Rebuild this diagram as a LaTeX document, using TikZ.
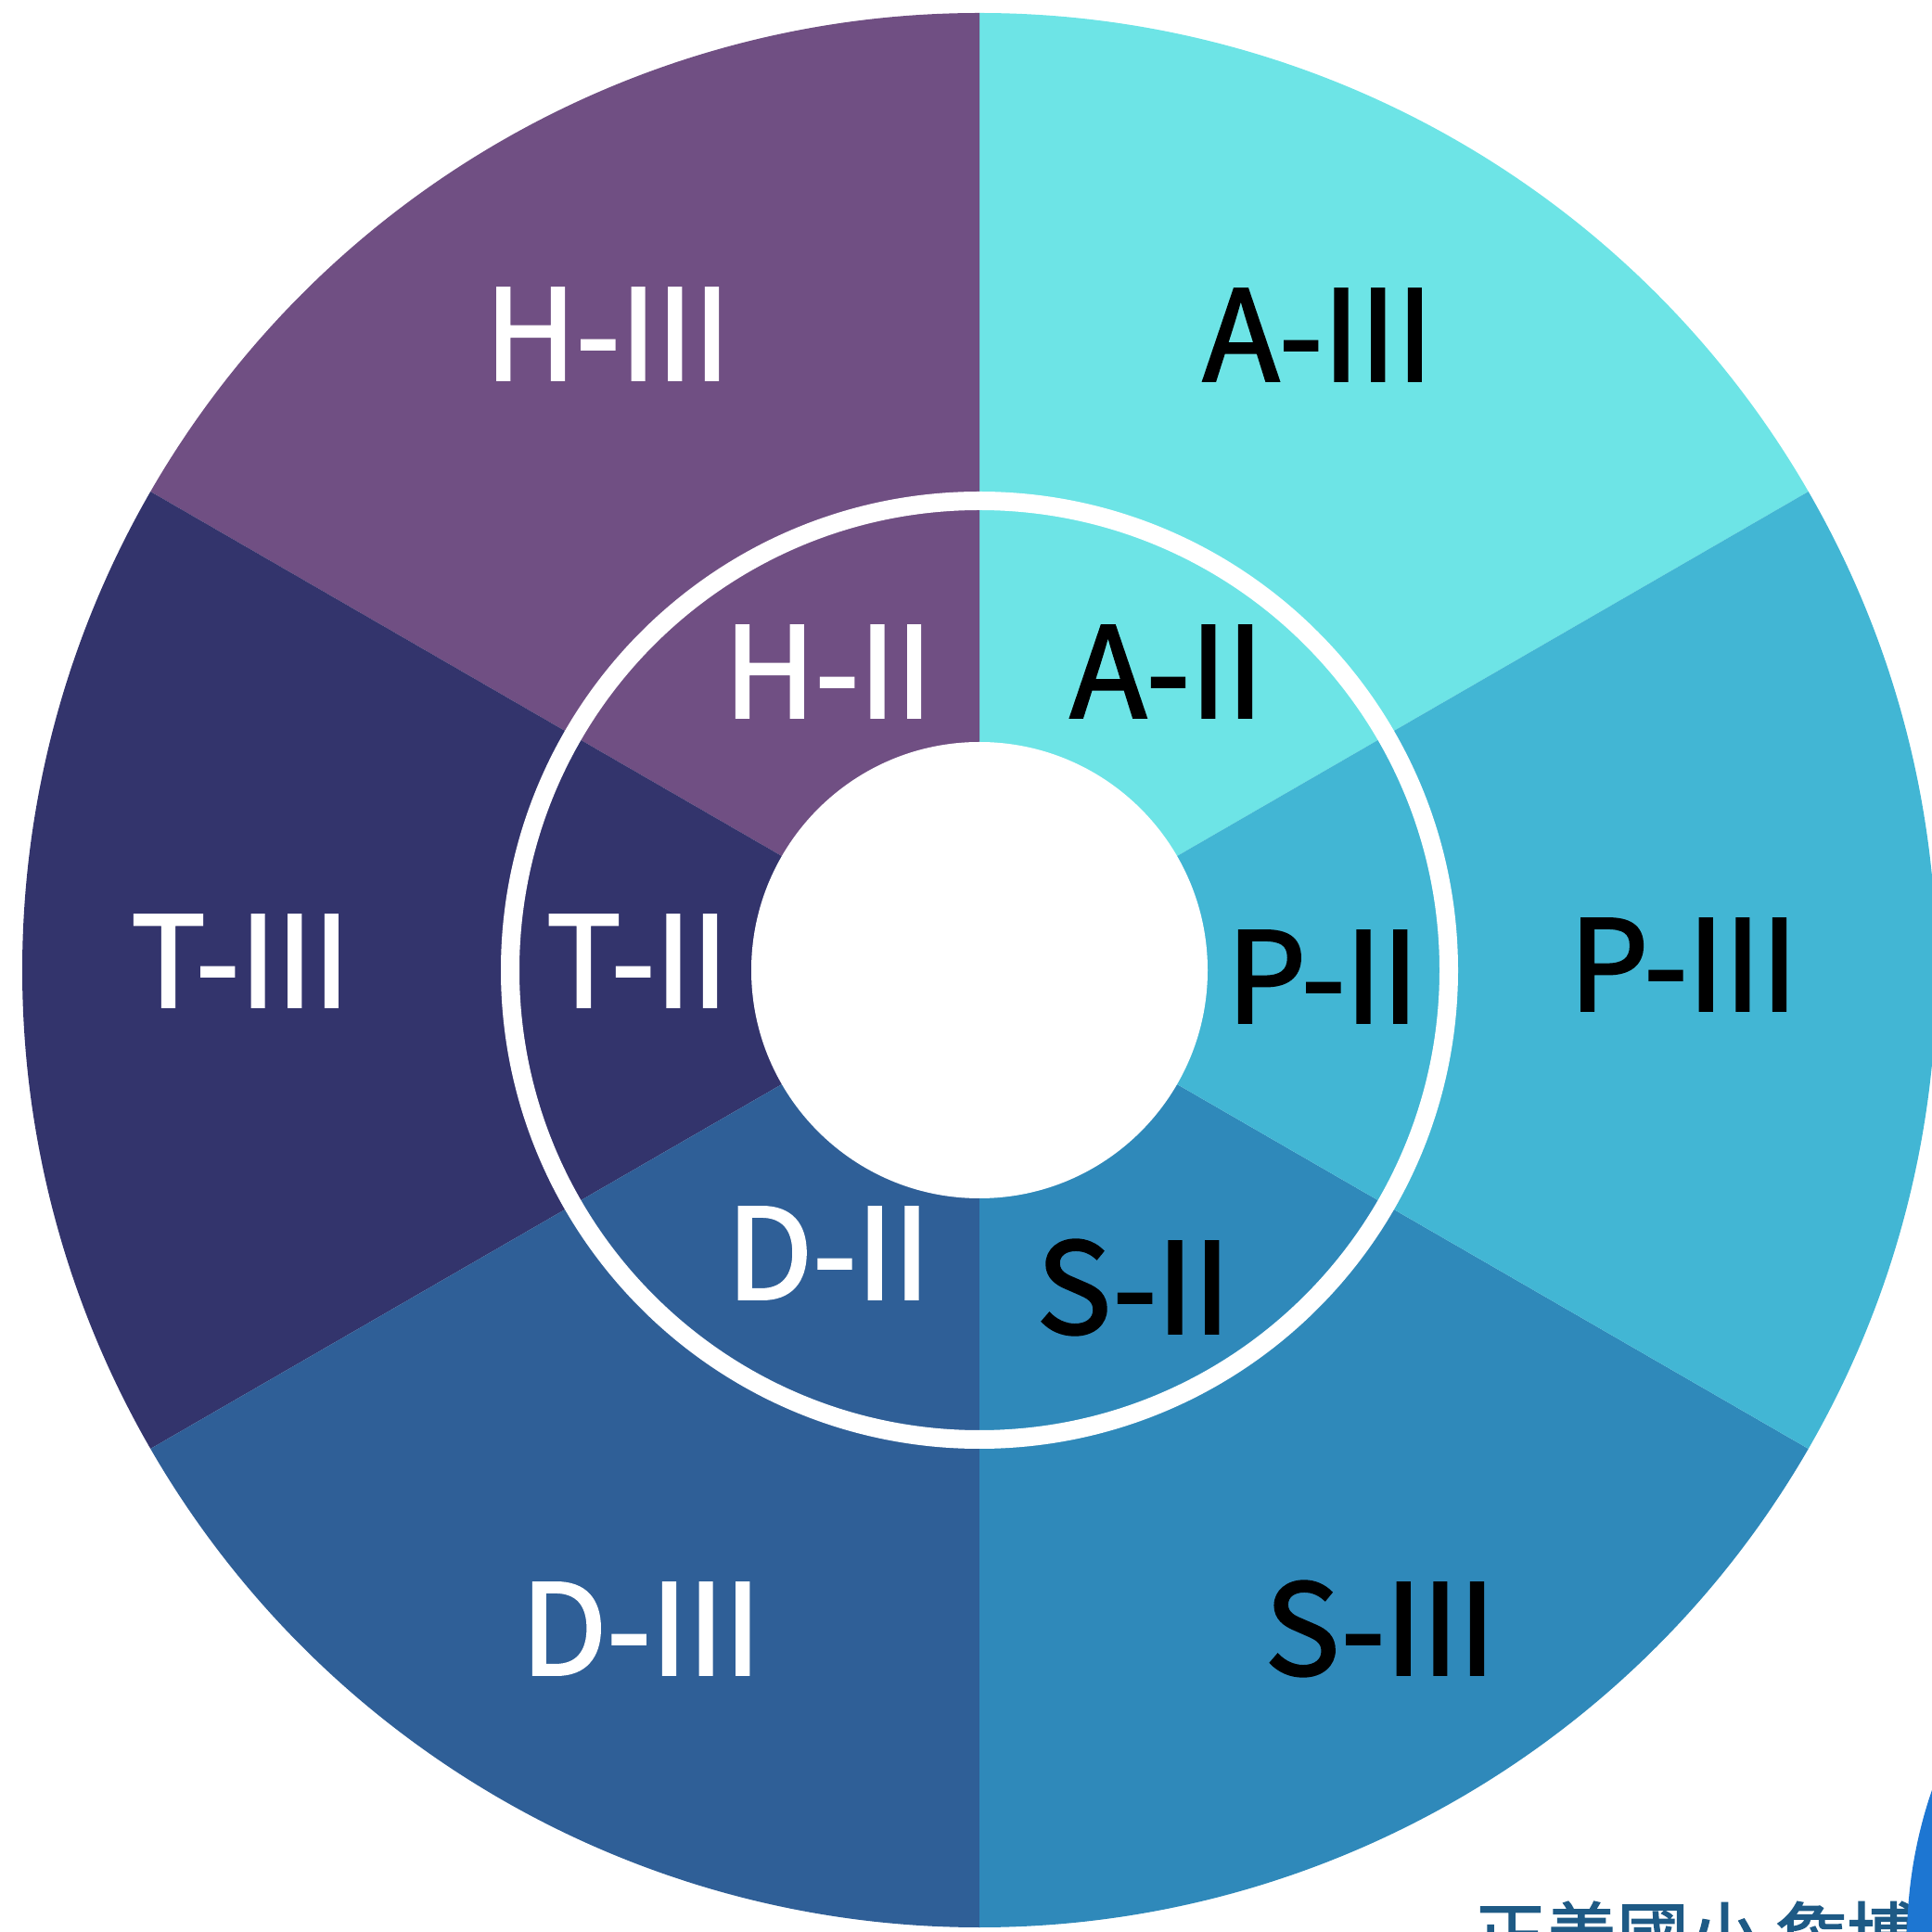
\documentclass[tikz,border=0pt]{standalone}
\usepackage{fontspec}
\setmainfont{Noto Sans CJK TC}[FakeBold=2]
\definecolor{cH}{HTML}{704F83}
\definecolor{cA}{HTML}{6DE4E6}
\definecolor{cP}{HTML}{42B6D4}
\definecolor{cS}{HTML}{2F89BA}
\definecolor{cD}{HTML}{2F5F97}
\definecolor{cT}{HTML}{33346C}
\definecolor{ctext}{HTML}{1E5A85}
\definecolor{cblob}{HTML}{1D76D2}
\tikzset{
  lbl/.style={font=\fontsize{38.5}{42}\selectfont, inner sep=0pt},
  lw/.style={lbl, text=white},
  lk/.style={lbl, text=black},
}
\begin{document}
\begin{tikzpicture}
\useasboundingbox (0,0) rectangle (20.83,20.83);
\clip (0,0) rectangle (20.83,20.83);
\coordinate (C) at (10.56,10.37);
% wedges
\fill[cA] (C) -- ++(30:10.32cm) arc[start angle=30, end angle=90, radius=10.32cm] -- cycle;
\fill[cH] (C) -- ++(90:10.32cm) arc[start angle=90, end angle=150, radius=10.32cm] -- cycle;
\fill[cT] (C) -- ++(150:10.32cm) arc[start angle=150, end angle=210, radius=10.32cm] -- cycle;
\fill[cD] (C) -- ++(210:10.32cm) arc[start angle=210, end angle=270, radius=10.32cm] -- cycle;
\fill[cS] (C) -- ++(270:10.32cm) arc[start angle=270, end angle=330, radius=10.32cm] -- cycle;
\fill[cP] (C) -- ++(330:10.32cm) arc[start angle=330, end angle=390, radius=10.32cm] -- cycle;
% ring and hole
\draw[white, line width=0.2cm] (C) circle[radius=5.06cm];
\fill[white] (C) circle[radius=2.46cm];
% outer labels
\node[lw] (h3) at (6.55,17.23) {H-III};
\node[lk] (a3) at (14.21,17.22) {A-III};
\node[lw] (t3) at (2.59,10.47) {T-III};
\node[lk] (p3) at (18.15,10.43) {P-III};
\node[lw] (d3) at (6.91,3.27) {D-III};
\node[lk] (s3) at (14.88,3.27) {S-III};
% inner labels
\node[lw] (h2) at (8.93,13.59) {H-II};
\node[lk] (a2) at (12.58,13.59) {A-II};
\node[lw] (t2) at (6.87,10.47) {T-II};
\node[lk] (p2) at (14.26,10.30) {P-II};
\node[lw] (d2) at (8.93,7.32) {D-II};
\node[lk] (s2) at (12.22,6.95) {S-II};
% footer text and blue shape
\node[anchor=base west, inner sep=0pt, text=ctext, font=\fontsize{21.9}{24}\selectfont] (foot) at (15.89,-0.32) {正善國小 詹博};
\fill[cblob] (25.54,-0.09) circle[radius=4.98cm];
\end{tikzpicture}
\end{document}
